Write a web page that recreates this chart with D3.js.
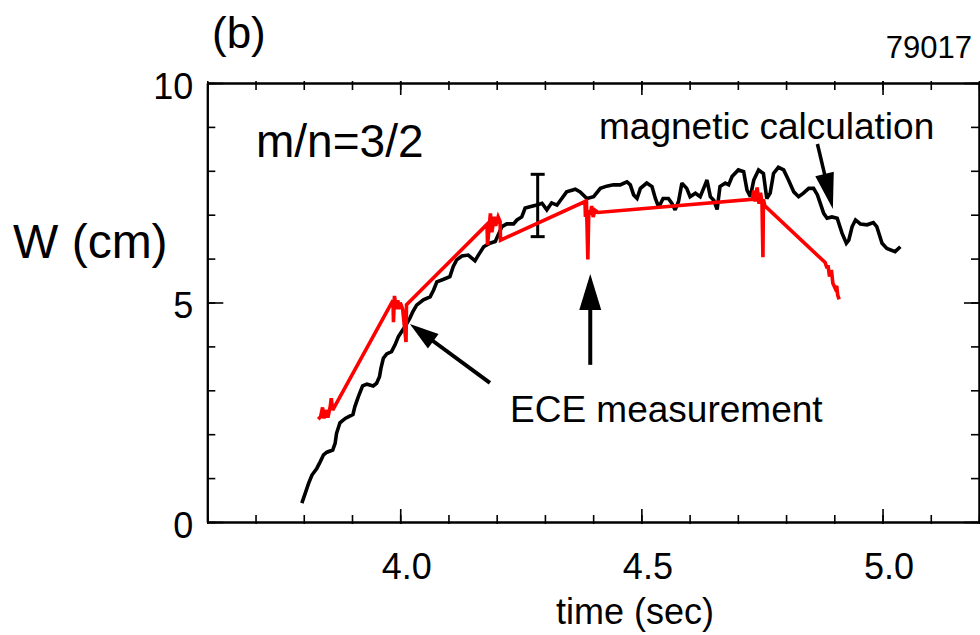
<!DOCTYPE html>
<html>
<head>
<meta charset="utf-8">
<script src="https://cdn.jsdelivr.net/npm/d3@7"></script>
<style>
  html, body { margin: 0; padding: 0; background: #fff; }
  svg { display: block; }
  text { font-family: "Liberation Sans", Arial, Helvetica, sans-serif; fill: #000; }
</style>
</head>
<body>
<svg id="chart" width="980" height="635"></svg>
<script>
// Island width from magnetic calculation (black trace)
const magTime = [3.796,3.803,3.810,3.817,3.827,3.834,3.841,3.848,3.860,3.865,3.868,3.875,3.886,3.902,3.906,3.913,3.922,3.931,3.944,3.951,3.957,3.960,3.965,3.972,3.982,3.989,3.996,4.003,4.010,4.020,4.026,4.034,4.048,4.062,4.069,4.076,4.090,4.103,4.110,4.117,4.128,4.141,4.155,4.162,4.173,4.186,4.197,4.211,4.221,4.235,4.242,4.252,4.259,4.269,4.283,4.294,4.304,4.314,4.325,4.335,4.345,4.363,4.373,4.387,4.401,4.415,4.428,4.442,4.456,4.470,4.477,4.484,4.491,4.498,4.511,4.522,4.529,4.536,4.545,4.556,4.563,4.570,4.577,4.584,4.594,4.601,4.612,4.622,4.632,4.636,4.643,4.650,4.657,4.663,4.674,4.681,4.688,4.701,4.712,4.719,4.726,4.733,4.743,4.753,4.760,4.767,4.774,4.784,4.795,4.805,4.816,4.826,4.836,4.847,4.857,4.865,4.871,4.878,4.885,4.895,4.906,4.916,4.925,4.930,4.937,4.944,4.954,4.968,4.981,4.988,4.999,5.009,5.026,5.037];
const magW = [0.43,0.65,0.88,1.07,1.22,1.37,1.53,1.59,1.64,1.79,2.02,2.26,2.36,2.45,2.63,2.85,3.10,3.14,3.10,3.16,3.31,3.50,3.73,3.83,3.88,4.03,4.22,4.34,4.45,4.64,4.79,4.94,5.06,5.13,5.28,5.47,5.53,5.59,5.82,5.97,6.06,6.08,5.95,6.08,6.27,6.35,6.39,6.73,6.79,6.79,6.88,6.95,7.15,7.18,7.22,7.26,7.11,7.27,7.22,7.37,7.52,7.58,7.52,7.37,7.41,7.60,7.65,7.68,7.68,7.75,7.68,7.45,7.37,7.60,7.72,7.64,7.37,7.17,7.37,7.37,7.26,7.11,7.30,7.72,7.60,7.41,7.49,7.41,7.68,7.79,7.41,7.33,7.12,7.64,7.72,7.68,7.87,8.02,7.98,7.56,7.41,7.79,8.02,7.94,7.37,7.49,7.94,8.08,8.02,7.79,7.52,7.41,7.49,7.60,7.60,7.45,7.26,7.03,6.92,6.95,6.92,6.58,6.35,6.42,6.73,6.88,6.79,6.77,6.82,6.73,6.35,6.23,6.16,6.27];

// Island width from ECE measurement (red trace)
const eceTime = [3.830,3.835,3.839,3.842,3.846,3.850,3.855,3.857,3.860,
  3.985,3.986,3.988,3.992,3.995,3.998,4.000,4.005,4.012,4.013,
  4.180,4.181,4.187,4.190,4.195,4.198,4.203,4.207,4.208,
  4.383,4.384,4.386,4.389,4.391,4.394,4.397,4.400,4.404,4.410,
  4.730,4.733,4.736,4.740,4.744,4.747,4.750,4.752,4.753,4.756,
  4.881,4.885,4.887,4.890,4.894,4.897,4.902,4.905,4.907,4.910];
const eceW = [2.34,2.40,2.61,2.36,2.55,2.38,2.64,2.82,2.55,
  5.05,4.55,5.15,4.85,5.05,4.85,5.00,4.85,4.10,4.95,
  6.78,6.31,7.03,6.60,6.95,6.75,6.95,6.85,6.42,
  7.30,6.95,7.35,5.98,7.10,7.00,7.20,6.95,7.10,7.05,
  7.35,7.55,7.30,7.62,7.25,7.50,7.30,6.03,7.35,7.20,
  5.91,5.78,5.85,5.59,5.74,5.44,5.32,5.38,5.17,5.07];

// Representative error bar on the magnetic estimate
const errTime = [4.285];
const errLow = [6.50];
const errHigh = [7.92];

// Axis ticks
const xMajorTicks = [4.0, 4.5, 5.0];
const xTickLabels = ["4.0", "4.5", "5.0"];
const xMinorTicks = d3.range(36, 53).map(d => d / 10);
const yMajorTicks = [0, 5, 10];
const yTickLabels = ["0", "5", "10"];
const yMinorTicks = d3.range(0, 11);

// Annotation arrows: [startTime, startW, tipTime, tipW]
const arrowMag = [4.865, 8.61, 4.897, 7.13];
const arrowEce1 = [4.186, 3.17, 4.020, 4.51];
const arrowEce2 = [4.394, 3.58, 4.394, 5.65];

const svg = d3.select("#chart");
const plotLeft = 207.3, plotRight = 979, plotTop = 83, plotBottom = 522;

const x = d3.scaleLinear().domain([3.6, 5.2]).range([plotLeft, plotRight]);
const y = d3.scaleLinear().domain([0, 10]).range([plotBottom, plotTop]);

// Frame and ticks (all pointing inward)
function styleAxis(g) {
  g.select(".domain").attr("stroke", "#000").attr("stroke-width", 2);
  g.selectAll(".tick line").attr("stroke", "#000").attr("stroke-width", 1.6);
}
function fmt(vals, labels) { return d => labels[vals.indexOf(d)]; }
const tickFont = '"Liberation Sans", Arial, sans-serif';

// bottom
svg.append("g").attr("transform", `translate(0,${plotBottom})`)
  .call(d3.axisBottom(x).tickValues(xMinorTicks).tickSizeInner(-7).tickSizeOuter(0).tickFormat(""))
  .call(styleAxis).call(g => g.selectAll(".tick line").attr("y1", 2));
svg.append("g").attr("transform", `translate(0,${plotBottom})`)
  .call(d3.axisBottom(x).tickValues(xMajorTicks).tickSizeInner(-13).tickSizeOuter(0)
    .tickPadding(31).tickFormat(fmt(xMajorTicks, xTickLabels)))
  .call(styleAxis)
  .call(g => g.selectAll(".tick line").attr("y1", 2))
  .call(g => g.selectAll("text").attr("font-size", 36).attr("dx", 6).style("font-family", tickFont));

// top
svg.append("g").attr("transform", `translate(0,${plotTop})`)
  .call(d3.axisTop(x).tickValues(xMinorTicks).tickSizeInner(-7).tickSizeOuter(0).tickFormat(""))
  .call(styleAxis).call(g => g.selectAll(".tick line").attr("y1", -2));
svg.append("g").attr("transform", `translate(0,${plotTop})`)
  .call(d3.axisTop(x).tickValues(xMajorTicks).tickSizeInner(-12).tickSizeOuter(0).tickFormat(""))
  .call(styleAxis).call(g => g.selectAll(".tick line").attr("y1", -2));

// left
svg.append("g").attr("transform", `translate(${plotLeft},0)`)
  .call(d3.axisLeft(y).tickValues(yMinorTicks).tickSizeInner(-8).tickSizeOuter(0).tickFormat(""))
  .call(styleAxis);
svg.append("g").attr("transform", `translate(${plotLeft},0)`)
  .call(d3.axisLeft(y).tickValues(yMajorTicks).tickSizeInner(-16).tickSizeOuter(0)
    .tickPadding(14).tickFormat(fmt(yMajorTicks, yTickLabels)))
  .call(styleAxis)
  .call(g => g.selectAll("text").attr("font-size", 36).attr("dy", "0.43em").style("font-family", tickFont));

// right
svg.append("g").attr("transform", `translate(${plotRight},0)`)
  .call(d3.axisRight(y).tickValues(yMinorTicks).tickSizeInner(-8).tickSizeOuter(0).tickFormat(""))
  .call(styleAxis);
svg.append("g").attr("transform", `translate(${plotRight},0)`)
  .call(d3.axisRight(y).tickValues(yMajorTicks).tickSizeInner(-15).tickSizeOuter(0).tickFormat(""))
  .call(styleAxis);

// Magnetic calculation trace
const magData = magTime.map((t, i) => [t, magW[i]]);
const line = d3.line().x(d => x(d[0])).y(d => y(d[1]));
svg.append("path").datum(magData)
  .attr("d", line)
  .attr("fill", "none").attr("stroke", "#000").attr("stroke-width", 3.6)
  .attr("stroke-linejoin", "miter").attr("stroke-miterlimit", 2);

// Error bar
errTime.forEach((t, i) => {
  const g = svg.append("g").attr("stroke", "#000").attr("stroke-width", 3);
  g.append("line").attr("x1", x(t)).attr("x2", x(t)).attr("y1", y(errLow[i])).attr("y2", y(errHigh[i]));
  g.append("line").attr("x1", x(t) - 7).attr("x2", x(t) + 7).attr("y1", y(errLow[i])).attr("y2", y(errLow[i]));
  g.append("line").attr("x1", x(t) - 7).attr("x2", x(t) + 7).attr("y1", y(errHigh[i])).attr("y2", y(errHigh[i]));
});

// ECE measurement trace
const eceData = eceTime.map((t, i) => [t, eceW[i]]);
svg.append("path").datum(eceData)
  .attr("d", line)
  .attr("fill", "none").attr("stroke", "#ff0000").attr("stroke-width", 3.6)
  .attr("stroke-linejoin", "miter").attr("stroke-miterlimit", 3);

// Arrows
function arrow(a, headLen, headWidth, width) {
  const x0 = x(a[0]), y0 = y(a[1]), x1 = x(a[2]), y1 = y(a[3]);
  const dx = x1 - x0, dy = y1 - y0, L = Math.hypot(dx, dy);
  const ux = dx / L, uy = dy / L;
  const bx = x1 - ux * headLen, by = y1 - uy * headLen;
  svg.append("line").attr("x1", x0).attr("y1", y0).attr("x2", bx + ux * 2).attr("y2", by + uy * 2)
    .attr("stroke", "#000").attr("stroke-width", width);
  const px = -uy * headWidth / 2, py = ux * headWidth / 2;
  svg.append("polygon")
    .attr("points", [[x1, y1], [bx + px, by + py], [bx - px, by - py]].map(p => p.join(",")).join(" "))
    .attr("fill", "#000");
}
arrow(arrowMag, 36, 19, 3.5);
arrow(arrowEce1, 29, 18, 4);
arrow(arrowEce2, 36, 22, 4);

// Texts
svg.append("text").attr("x", 212).attr("y", 48).attr("font-size", 44).text("(b)");
svg.append("text").attr("x", 972).attr("y", 58).attr("font-size", 31).attr("text-anchor", "end").text("79017");
svg.append("text").attr("x", 13).attr("y", 258).attr("font-size", 48).text("W (cm)");
svg.append("text").attr("x", 556).attr("y", 624).attr("font-size", 36).text("time (sec)");
svg.append("text").attr("x", 256).attr("y", 157).attr("font-size", 46).text("m/n=3/2");
svg.append("text").attr("x", 599).attr("y", 139).attr("font-size", 37).text("magnetic calculation");
svg.append("text").attr("x", 510).attr("y", 422).attr("font-size", 37).text("ECE measurement");
</script>
</body>
</html>
